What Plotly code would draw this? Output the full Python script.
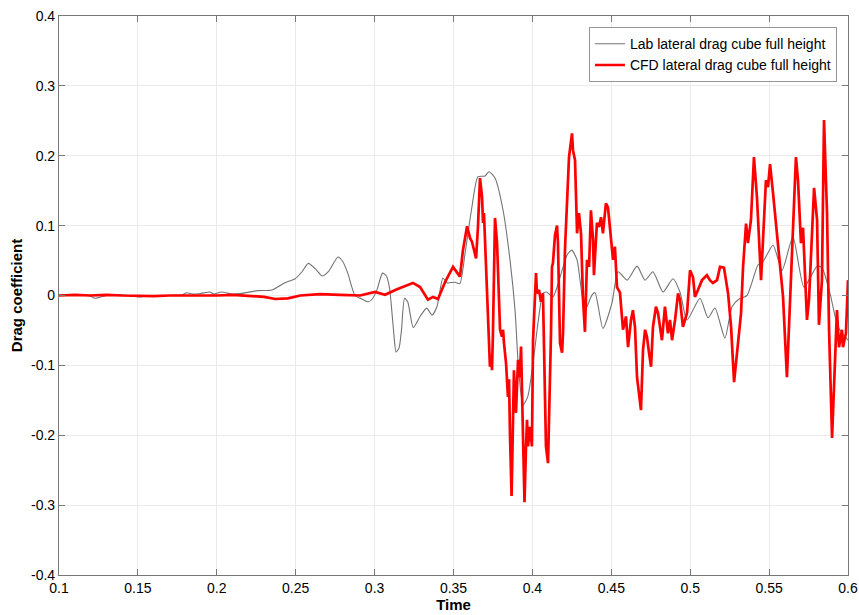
import plotly.graph_objects as go

# ---- data ----
lab_t = [0.100, 0.110, 0.120, 0.1228, 0.130, 0.140, 0.150, 0.160, 0.170, 0.178, 0.181, 0.185,
         0.190, 0.1957, 0.198, 0.203, 0.210, 0.216, 0.226, 0.235, 0.243, 0.2496, 0.254, 0.258,
         0.2625, 0.2667, 0.271, 0.2768, 0.280, 0.283, 0.2876, 0.292, 0.296, 0.2985, 0.3015,
         0.305, 0.3075, 0.3095, 0.312, 0.3136, 0.3155, 0.317, 0.319, 0.321, 0.3245, 0.3288,
         0.333, 0.3364, 0.3395, 0.3433, 0.346, 0.351, 0.354, 0.3573, 0.3617, 0.3655, 0.370,
         0.3725, 0.3763, 0.3814, 0.3858, 0.389, 0.391, 0.394, 0.397, 0.4004, 0.4035, 0.4067,
         0.409, 0.413, 0.4188, 0.422, 0.425, 0.4283, 0.4302, 0.4333, 0.4378, 0.4397, 0.4447,
         0.4504, 0.4543, 0.460, 0.4663, 0.4714, 0.4764, 0.4828, 0.4891, 0.4935, 0.498, 0.5062,
         0.5113, 0.5157, 0.522, 0.5265, 0.531, 0.536, 0.543, 0.546, 0.5525, 0.5582, 0.5651,
         0.5721, 0.5804, 0.5835, 0.5886, 0.5937, 0.600]
lab_v = [0.000, 0.001, -0.001, -0.004, 0.000, 0.001, -0.002, 0.000, 0.000, 0.001, 0.004, 0.002,
         0.003, 0.005, 0.002, 0.005, 0.002, 0.003, 0.007, 0.008, 0.018, 0.024, 0.034, 0.046,
         0.038, 0.028, 0.035, 0.055, 0.048, 0.032, 0.000, -0.005, -0.009, -0.005, 0.008,
         0.032, 0.028, 0.010, -0.050, -0.081, -0.075, -0.050, -0.004, -0.009, -0.046, -0.030,
         -0.018, -0.028, -0.016, 0.025, 0.018, 0.019, 0.017, 0.060, 0.127, 0.170, 0.171,
         0.177, 0.168, 0.122, 0.051, -0.021, -0.097, -0.157, -0.145, -0.097, -0.040, 0.003,
         0.005, -0.002, 0.036, 0.058, 0.065, 0.051, 0.022, -0.021, 0.001, 0.004, -0.047,
         -0.011, 0.034, 0.022, 0.042, 0.022, 0.034, 0.005, 0.024, 0.005, -0.035, -0.004,
         -0.032, -0.018, -0.061, -0.016, -0.005, 0.000, 0.044, 0.048, 0.072, 0.036, 0.084,
         0.012, 0.042, 0.040, 0.003, -0.045, -0.064]

cfd_t = [0.100, 0.110, 0.120, 0.130, 0.140, 0.150, 0.160, 0.170, 0.180, 0.190, 0.200, 0.210,
         0.220, 0.230, 0.237, 0.245, 0.253, 0.2654, 0.278, 0.2908, 0.3003, 0.3066, 0.3142,
         0.3243, 0.3288, 0.3338, 0.337, 0.3402, 0.3446, 0.3497, 0.3541, 0.356, 0.3586, 0.3605,
         0.3617, 0.3643, 0.3655, 0.3668, 0.3681, 0.3687, 0.3693, 0.3706, 0.3725, 0.3731,
         0.3738, 0.3744, 0.375, 0.3763, 0.3776, 0.3795, 0.3807, 0.3814, 0.382, 0.3833, 0.3845,
         0.3852, 0.3858, 0.3868, 0.3877, 0.3883, 0.3896, 0.3909, 0.3921, 0.3928, 0.394, 0.395,
         0.3959, 0.3966, 0.3972, 0.3985, 0.3997, 0.4004, 0.4023, 0.4029, 0.4042, 0.4054,
         0.4067, 0.4086, 0.4099, 0.4105, 0.4118, 0.4124, 0.413, 0.4143, 0.4156, 0.4162,
         0.4175, 0.4188, 0.4194, 0.4207, 0.4219, 0.4232, 0.4251, 0.4257, 0.427, 0.4283,
         0.4295, 0.4308, 0.4321, 0.4333, 0.4346, 0.4359, 0.4371, 0.4384, 0.439, 0.4409,
         0.4422, 0.4435, 0.4447, 0.4466, 0.4479, 0.4498, 0.4511, 0.4523, 0.4536, 0.4555,
         0.4574, 0.4593, 0.4606, 0.4625, 0.4637, 0.465, 0.4663, 0.4688, 0.4701, 0.4714,
         0.4726, 0.4739, 0.4752, 0.4764, 0.4783, 0.4796, 0.4821, 0.484, 0.4859, 0.4872,
         0.4885, 0.4904, 0.4923, 0.4935, 0.4954, 0.498, 0.4999, 0.5018, 0.503, 0.5049,
         0.5075, 0.5106, 0.5125, 0.5144, 0.517, 0.5189, 0.5214, 0.524, 0.5259, 0.5278,
         0.5297, 0.5322, 0.5335, 0.5354, 0.5366, 0.5385, 0.5404, 0.5423, 0.5449, 0.5461,
         0.548, 0.5493, 0.5506, 0.5525, 0.555, 0.5563, 0.5588, 0.5613, 0.5639, 0.5658,
         0.567, 0.5683, 0.5702, 0.5715, 0.574, 0.5753, 0.5772, 0.5785, 0.5804, 0.5816,
         0.5835, 0.5848, 0.5867, 0.588, 0.5899, 0.5918, 0.593, 0.5943, 0.5962, 0.5968,
         0.5987, 0.600]
cfd_v = [0.000, 0.001, 0.000, 0.001, 0.000, -0.001, -0.001, 0.000, 0.000, -0.001, 0.000, 0.001,
         0.000, -0.002, -0.005, -0.004, 0.000, 0.002, 0.001, 0.000, 0.005, 0.001, 0.009,
         0.018, 0.012, -0.006, -0.002, -0.005, 0.019, 0.041, 0.027, 0.065, 0.099, 0.082,
         0.077, 0.053, 0.098, 0.168, 0.141, 0.104, 0.118, 0.032, -0.088, -0.102,
         -0.085, -0.107, -0.054, 0.111, 0.075, -0.049, -0.059, -0.049, -0.068, -0.097, -0.145,
         -0.120, -0.200, -0.287, -0.180, -0.107, -0.168, -0.092, -0.117, -0.073, -0.197, -0.296,
         -0.220, -0.178, -0.216, -0.188, -0.216, -0.064, 0.032, 0.003, 0.008, -0.009,
         0.003, -0.216, -0.240, -0.190, -0.053, 0.041, 0.046, 0.086, 0.100, 0.075,
         -0.068, -0.082, -0.054, 0.069, 0.127, 0.198, 0.232, 0.208, 0.194, 0.089,
         0.118, 0.089, -0.006, -0.052, 0.051, 0.041, 0.122, 0.080, 0.029, 0.104,
         0.098, 0.112, 0.089, 0.132, 0.126, 0.084, 0.051, 0.070, 0.012, 0.004,
         -0.049, -0.030, -0.074, -0.035, -0.021, -0.045, -0.117, -0.164, -0.078, -0.049,
         -0.059, -0.082, -0.102, -0.045, -0.016, -0.025, -0.064, -0.016, -0.054, -0.035,
         -0.064, -0.035, 0.003, -0.006, -0.045, -0.025, 0.036, 0.026, -0.002, 0.008,
         0.022, 0.029, 0.022, 0.018, 0.022, 0.041, 0.040, 0.003, -0.045, -0.124,
         -0.082, -0.026, 0.041, 0.103, 0.075, 0.108, 0.198, 0.141, 0.022, 0.080,
         0.165, 0.155, 0.188, 0.146, 0.089, 0.065, -0.001, -0.117, 0.022, 0.146,
         0.198, 0.165, 0.075, 0.097, -0.035, -0.006, 0.094, 0.154, 0.108, -0.042,
         0.022, 0.251, 0.118, -0.049, -0.204, -0.074, -0.021, -0.074, -0.049, -0.074,
         -0.054, 0.022]

x_ticks = [0.1, 0.15, 0.2, 0.25, 0.3, 0.35, 0.4, 0.45, 0.5, 0.55, 0.6]
x_tick_text = ["0.1", "0.15", "0.2", "0.25", "0.3", "0.35", "0.4", "0.45", "0.5", "0.55", "0.6"]
y_ticks = [-0.4, -0.3, -0.2, -0.1, 0, 0.1, 0.2, 0.3, 0.4]
y_tick_text = ["-0.4", "-0.3", "-0.2", "-0.1", "0", "0.1", "0.2", "0.3", "0.4"]

FONT = "Liberation Sans, Arial, Helvetica, sans-serif"

fig = go.Figure()
fig.add_trace(go.Scatter(x=lab_t, y=lab_v, mode="lines", name="Lab lateral drag cube full height",
                         line=dict(color="rgb(115,115,115)", width=1.1, shape="spline", smoothing=0.6)))
fig.add_trace(go.Scatter(x=cfd_t, y=cfd_v, mode="lines", name="CFD lateral drag cube full height",
                         line=dict(color="rgb(255,0,0)", width=2.7)))

axis_common = dict(showgrid=True, gridcolor="rgb(235,235,235)", gridwidth=1,
                   showline=True, linecolor="rgb(120,120,120)", linewidth=1.2, mirror="ticks",
                   ticks="inside", ticklen=6, tickcolor="rgb(120,120,120)", zeroline=False,
                   automargin=False, ticklabeloverflow="allow",
                   tickfont=dict(family=FONT, size=14, color="black"))

fig.update_xaxes(range=[0.1, 0.6], tickvals=x_ticks, ticktext=x_tick_text,
                 title=dict(text="<b>Time</b>", font=dict(family=FONT, size=15, color="black"), standoff=4),
                 **axis_common)
fig.update_yaxes(range=[-0.4, 0.4], tickvals=y_ticks, ticktext=y_tick_text,
                 title=dict(text="<b>Drag coefficient</b>", font=dict(family=FONT, size=15, color="black"), standoff=4),
                 **axis_common)

fig.update_layout(
    width=859, height=615,
    margin=dict(l=59, r=11, t=16, b=40),
    paper_bgcolor="white", plot_bgcolor="white",
    font=dict(family=FONT, size=14, color="black"),
    legend=dict(x=0.986, y=0.98, xanchor="right", yanchor="top",
                bgcolor="white", bordercolor="rgb(150,150,150)", borderwidth=1,
                font=dict(family=FONT, size=14, color="black"),
                tracegroupgap=0, itemwidth=30),
    showlegend=True,
)

# remove the browser's default 8px page margin so the figure fills the window exactly
fig.write_html("out.html", config={"displayModeBar": False},
               post_script="document.body.style.margin='0';document.body.style.overflow='hidden';")
